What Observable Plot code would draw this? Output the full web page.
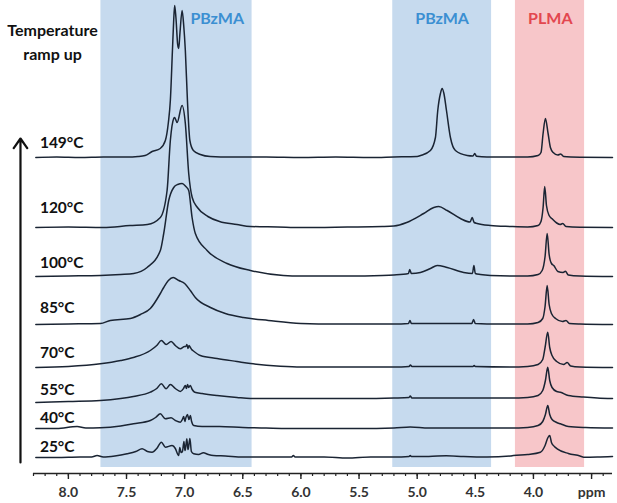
<!DOCTYPE html>
<html><head><meta charset="utf-8">
<script src="https://cdn.jsdelivr.net/npm/d3@7"></script>
<script src="https://cdn.jsdelivr.net/npm/@observablehq/plot@0.6"></script>
<style>body{margin:0;background:#fff;} #chart{width:617px;height:503px;}</style>
</head><body><div id="chart"></div>
<script>
// ---- DATA ----
const temps = ["149°C","120°C","100°C","85°C","70°C","55°C","40°C","25°C"];
const offsets = [316, 246, 197, 149, 106, 75, 45, 16]; // stacking offsets (intensity units)

const s149 = [[8.28,0],[8.1,0.5],[7.9,0],[7.7,0.5],[7.5,0.5],[7.4,1],[7.34,2],[7.28,6],[7.21,9],[7.166,17],[7.14,35],[7.123,57],[7.105,107],[7.095,135],[7.086,152],[7.075,140],[7.06,113],[7.051,109],[7.04,125],[7.022,147],[7.008,132],[6.994,107],[6.976,57],[6.955,17],[6.925,7],[6.865,3],[6.78,1],[6.6,0.5],[6.3,0.5],[6.0,0],[5.7,0.5],[5.4,0],[5.2,0.5],[5.0,1],[4.97,2],[4.886,7],[4.843,20],[4.823,47],[4.80,64],[4.785,69],[4.77,64],[4.748,47],[4.714,20],[4.671,7],[4.57,2],[4.52,1.5],[4.505,4],[4.49,1.2],[4.4,0.5],[4.2,0.5],[4.05,0.5],[3.96,2],[3.935,5],[3.917,24],[3.897,39],[3.874,24],[3.854,10],[3.83,5],[3.79,2.5],[3.765,3.5],[3.74,1],[3.6,0.3],[3.32,0]];
const s120 = [[8.28,0],[8.0,0.5],[7.7,0],[7.47,2],[7.32,3],[7.209,10],[7.151,37],[7.123,87],[7.094,109],[7.086,110],[7.065,105],[7.022,122],[6.994,104],[6.965,54],[6.935,30],[6.89,20],[6.8,11],[6.7,6],[6.55,3],[6.434,1],[6.2,0.5],[6.0,0],[5.6,0.5],[5.3,1],[5.2,1.5],[5.09,5],[4.944,14],[4.857,20],[4.815,21],[4.742,17],[4.628,9],[4.545,5.5],[4.527,10],[4.51,5],[4.484,4],[4.37,2],[4.2,1],[4.05,0.5],[3.96,2],[3.935,6],[3.917,20],[3.903,41],[3.888,22],[3.865,12],[3.839,8.7],[3.8,4.5],[3.77,3],[3.748,4],[3.72,1],[3.6,0.3],[3.32,0]];
const s100 = [[8.28,0],[8.0,0.5],[7.725,1],[7.55,2],[7.438,3],[7.323,9],[7.209,26],[7.18,43],[7.137,76],[7.094,89],[7.06,92],[7.022,93],[6.99,90],[6.965,86],[6.936,59],[6.908,43],[6.807,26],[6.635,13],[6.434,6],[6.151,1],[6.0,0.5],[5.6,0.5],[5.3,1],[5.2,1.5],[5.075,3],[5.064,7],[5.05,3],[4.972,4],[4.886,8],[4.828,11],[4.742,9],[4.6,4],[4.525,3],[4.512,11],[4.5,3],[4.456,2],[4.37,1],[4.2,0.5],[4.05,0.5],[3.96,2],[3.925,6],[3.9,20],[3.882,43],[3.865,22],[3.845,13],[3.825,11],[3.79,5],[3.745,4],[3.725,5.3],[3.7,1.5],[3.6,0.5],[3.32,0]];
const s85 = [[8.28,0],[8.0,0.5],[7.725,1],[7.639,4],[7.467,6],[7.38,10],[7.295,16],[7.209,31],[7.18,37],[7.14,44],[7.099,47],[7.05,44],[7.0,41],[6.951,34],[6.908,27],[6.778,17],[6.65,11],[6.495,7],[6.28,4],[6.0,1],[5.7,0.5],[5.4,0.5],[5.2,0.5],[5.075,1],[5.062,4],[5.05,1],[4.8,1],[4.53,1],[4.515,5],[4.5,1],[4.3,0.5],[4.05,0.5],[3.96,2],[3.92,6],[3.9,18],[3.882,39],[3.865,20],[3.845,11],[3.81,6],[3.75,3],[3.72,4],[3.69,1],[3.6,0.5],[3.32,0]];
const s70 = [[8.28,0],[8.0,1],[7.725,3.7],[7.55,7],[7.441,10],[7.295,17],[7.24,22],[7.2,27],[7.159,23],[7.116,26],[7.08,22],[7.037,18.7],[7.0,21],[6.99,21],[6.98,23],[6.972,19],[6.962,22],[6.951,20],[6.94,18],[6.93,17],[6.865,12],[6.721,9],[6.55,6],[6.434,4],[6.176,1.3],[6.0,0.5],[5.5,0.5],[5.2,0.5],[5.07,1],[5.058,2.5],[5.045,1],[4.52,1],[4.51,2],[4.5,1],[4.2,0.5],[4.05,1],[3.96,3],[3.92,8],[3.9,20],[3.877,35.3],[3.86,20],[3.84,12],[3.8,6],[3.74,3],[3.71,5],[3.68,1.5],[3.6,0.5],[3.32,0]];
const s55 = [[8.28,-4],[8.0,-3],[7.725,-2],[7.55,0],[7.441,2],[7.295,6.3],[7.24,10],[7.2,14.7],[7.159,9.7],[7.123,14],[7.08,10],[7.037,7],[7.01,10],[6.994,13],[6.985,10],[6.975,14],[6.965,11],[6.951,13],[6.935,9],[6.913,6.3],[6.85,5],[6.721,3],[6.55,1],[6.434,0],[6.0,0],[5.5,0],[5.2,0.5],[5.07,1],[5.06,2.5],[5.045,0.5],[4.5,0.5],[4.2,0.5],[4.05,1],[3.96,3],[3.92,8],[3.897,18],[3.877,31.3],[3.86,18],[3.84,11],[3.8,7],[3.768,6.3],[3.7,3],[3.57,1.5],[3.45,0.5],[3.32,0]];
const s40 = [[8.28,0],[8.1,0],[7.925,2],[7.85,0.5],[7.725,0.7],[7.55,2.5],[7.441,4.7],[7.295,8],[7.25,11],[7.209,14.7],[7.166,9.7],[7.117,10.7],[7.08,8],[7.037,6.3],[7.02,9],[7.008,12],[6.998,7],[6.989,11],[6.976,14],[6.963,9],[6.951,13],[6.94,7],[6.922,3],[6.85,2],[6.7,2],[6.5,1],[6.3,0.5],[6.0,0],[5.5,0],[5.2,0.5],[5.06,1.5],[4.9,0.5],[4.5,0.5],[4.2,0.5],[4.05,1],[3.96,3],[3.92,7],[3.897,14],[3.877,23],[3.86,14],[3.84,9],[3.8,6],[3.768,4.7],[3.7,2],[3.55,1],[3.32,0.5]];
const s25 = [[8.28,0],[8.1,0],[7.9,0.5],[7.8,0.5],[7.753,2],[7.7,0.5],[7.6,1.5],[7.495,3.7],[7.42,6],[7.366,8.7],[7.32,6],[7.28,5.3],[7.24,9],[7.2,15.3],[7.166,10.3],[7.108,12],[7.08,9],[7.058,3],[7.051,2],[7.042,10],[7.03,5],[7.019,6],[7.006,16],[6.998,7],[6.994,8],[6.981,18.7],[6.972,8],[6.968,9],[6.955,19],[6.942,6],[6.922,3.7],[6.88,3],[6.839,4.7],[6.796,3],[6.753,2],[6.65,1.5],[6.5,0.5],[6.2,0.5],[6.08,0.5],[6.065,2],[6.05,0.5],[5.8,0.5],[5.6,-0.5],[5.4,0.5],[5.2,0.5],[5.07,1],[5.06,2],[5.05,1],[4.9,1],[4.75,1.8],[4.6,1],[4.4,0.5],[4.2,1.5],[4.172,2],[4.05,3],[3.94,5.3],[3.9,12],[3.875,20],[3.86,22],[3.845,15],[3.82,11],[3.796,8.7],[3.7,4],[3.6,1.5],[3.567,0.3],[3.45,0.5],[3.32,1]];
const series = [s149, s120, s100, s85, s70, s55, s40, s25];

const bandNames = ["PBzMA", "PBzMA", "PLMA"];
const bandFrom = [7.72, 5.21, 4.155];
const bandTo = [6.42, 4.36, 3.56];
const bandLabelPpm = [6.72, 4.785, 3.855];

const majorTicks = [8.0, 7.5, 7.0, 6.5, 6.0, 5.5, 5.0, 4.5, 4.0, 3.5];
const tickLabels = ["8.0","7.5","7.0","6.5","6.0","5.5","5.0","4.5","4.0","ppm"];
const minorTicks = d3.range(83, 33, -1).map(d => d / 10);

// ---- LAYOUT ----
const labelY = [330, 265, 210, 165, 120, 83, 55, 26];
const bandColors = ["#c6daee", "#c6daee", "#f7c6c9"];
const bandTextColors = ["#3b8fd2", "#3b8fd2", "#e3474f"];

const rows = [];
series.forEach((pts, i) => pts.forEach(([ppm, v]) => rows.push({temp: temps[i], ppm, y: offsets[i] + v})));
const bands = bandNames.map((n, i) => ({name: n, from: bandFrom[i], to: bandTo[i], lab: bandLabelPpm[i], fill: bandColors[i], tfill: bandTextColors[i]}));

const plot = Plot.plot({
  width: 617, height: 503,
  marginLeft: 33, marginRight: 5, marginTop: 0, marginBottom: 30,
  style: {fontFamily: "Lato, 'Open Sans', sans-serif", background: "#fff"},
  x: {domain: [8.3, 3.32], axis: null},
  y: {domain: [0, 473], axis: null},
  marks: [
    ...bands.map(b => Plot.rect([b], {x1: "from", x2: "to", y1: 6, y2: 473, fill: b.fill})),
    ...bands.map(b => Plot.text([b], {x: "lab", y: 455, text: "name", fill: b.tfill, fontSize: 16, fontWeight: "bold"})),
    Plot.ruleY([0], {stroke: "#222", strokeWidth: 1.6}),
    Plot.axisX(minorTicks, {tickSize: 3, tickFormat: () => "", stroke: "#222", strokeWidth: 1.2}),
    Plot.axisX(majorTicks, {tickSize: 6, tickPadding: 8, fontSize: 14, fontWeight: "bold", fill: "#333", stroke: "#222", strokeWidth: 1.4,
      tickFormat: d => tickLabels[majorTicks.indexOf(d)]}),
    Plot.line(rows, {x: "ppm", y: "y", z: "temp", stroke: "#1a2433", strokeWidth: 1.5, curve: "monotone-x"}),
    Plot.text(temps, {x: 8.245, y: (d, i) => labelY[i], text: d => d, textAnchor: "start", fontSize: 15.5, fontWeight: "bold", fill: "#111"}),
    Plot.text(["Temperature\nramp up"], {frameAnchor: "top-left", dx: 19, dy: 40, lineAnchor: "middle", textAnchor: "middle", fontSize: 16, fontWeight: "bold", lineHeight: 1.5, fill: "#111"}),
    Plot.arrow([0], {x1: 8.412, x2: 8.412, y1: 11, y2: 335, stroke: "#111", strokeWidth: 2.2, headLength: 8, headAngle: 70})
  ]
});
document.getElementById("chart").appendChild(plot);
</script></body></html>
